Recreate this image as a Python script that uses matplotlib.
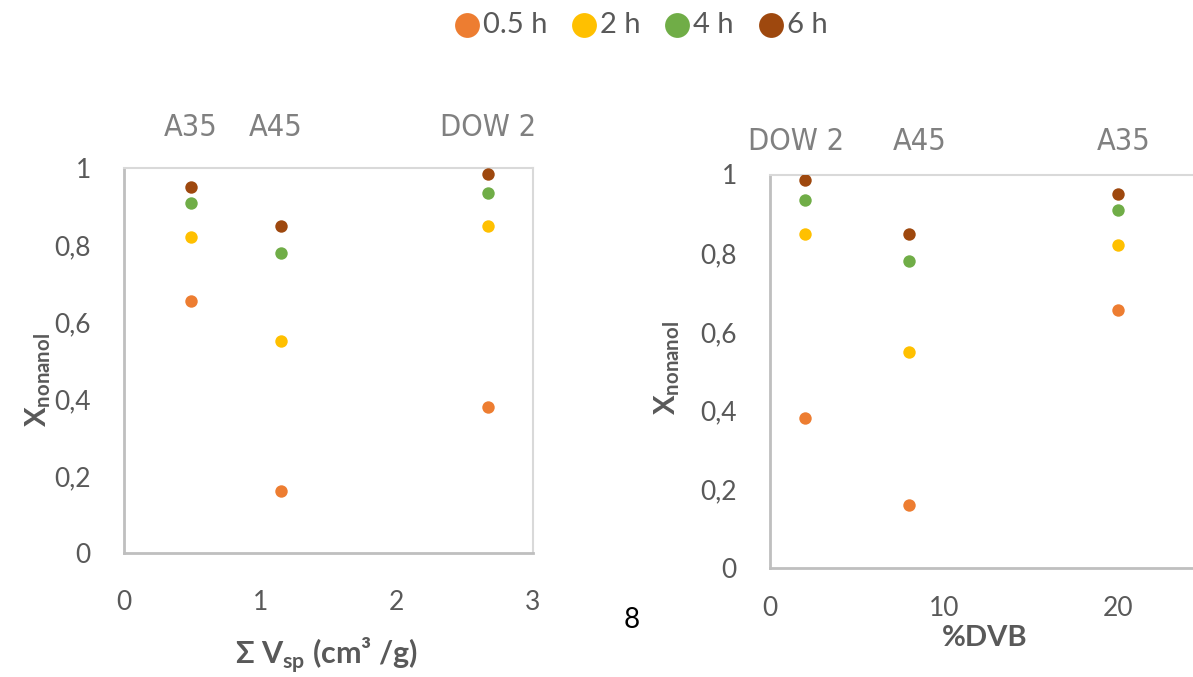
import matplotlib
matplotlib.use("Agg")
import matplotlib.pyplot as plt
import matplotlib.transforms as mtransforms

plt.rcParams['font.family'] = ['Lato', 'DejaVu Sans']

# data
resins = ['A35', 'A45', 'DOW 2']
vsp = [0.49, 1.15, 2.67]       # sum of specific pore volume, cm3/g
dvb = [20, 8, 2]               # %DVB
times = ['0.5 h', '2 h', '4 h', '6 h']
conv_05h = [0.655, 0.16, 0.38]
conv_2h = [0.82, 0.55, 0.85]
conv_4h = [0.91, 0.78, 0.935]
conv_6h = [0.95, 0.85, 0.985]
series = [conv_05h, conv_2h, conv_4h, conv_6h]
colors = ['#ED7D31', '#FFC000', '#70AD47', '#9E480E']

grey = '#595959'
W, H = 1193, 677
fig = plt.figure(figsize=(W / 100, H / 100), dpi=100)

def px(x0, y0, x1, y1):
    # pixel box -> figure fraction rect
    return [x0 / W, 1 - y1 / H, (x1 - x0) / W, (y1 - y0) / H]

ax1 = fig.add_axes(px(124, 168, 533, 553))
ax2 = fig.add_axes(px(770, 174.5, 770 + 25 * 17.4, 568))

def style(ax, xlim, xticks, xpad):
    ax.set_ylim(0, 1)
    ax.set_xlim(*xlim)
    ax.set_xticks(xticks)
    ax.set_yticks([0, 0.2, 0.4, 0.6, 0.8, 1])
    ax.set_yticklabels(['0', '0,2', '0,4', '0,6', '0,8', '1'])
    ax.tick_params(length=0, labelsize=19, labelcolor=grey)
    ax.tick_params(axis='y', pad=24)
    ax.tick_params(axis='x', pad=xpad)
    for s in ['left', 'bottom']:
        ax.spines[s].set_color('#BFBFBF')
        ax.spines[s].set_linewidth(2)
    for s in ['top', 'right']:
        ax.spines[s].set_color('#D9D9D9')
        ax.spines[s].set_linewidth(1.5)

style(ax1, (0, 3), [0, 1, 2, 3], 27)
style(ax2, (0, 25), [0, 10, 20], 20)

for vals, c, t in zip(series, colors, times):
    ax1.scatter(vsp, vals, s=80, color=c, linewidths=0, label=t, zorder=3)
    ax2.scatter(dvb, vals, s=80, color=c, linewidths=0, zorder=3)

# resin names above each column
tr1 = mtransforms.blended_transform_factory(ax1.transData, ax1.transAxes)
tr2 = mtransforms.blended_transform_factory(ax2.transData, ax2.transAxes)
offs1 = [0, -0.04, 0]
offs2 = [0.35, 0.6, -0.5]
lab_kw = dict(ha='center', va='center', fontsize=22, color='#808080',
              family='DejaVu Sans', fontstretch='condensed')
for name, x, o in zip(resins, vsp, offs1):
    ax1.text(x + o, 1.105, name, transform=tr1, **lab_kw)
for name, x, o in zip(resins, dvb, offs2):
    ax2.text(x + o, 1.083, name, transform=tr2, **lab_kw)

ylab = r'X$_{\mathregular{nonanol}}$'
fig.text(38 / W, 1 - 380 / H, ylab, rotation=90, ha='center', va='center',
         fontsize=21, fontweight='bold', color=grey)
fig.text(667 / W, 1 - 368 / H, ylab, rotation=90, ha='center', va='center',
         fontsize=21, fontweight='bold', color=grey)
fig.text(327 / W, 1 - 655 / H, r'Σ V$_{\mathregular{sp}}$ (cm³ /g)', ha='center', va='center',
         fontsize=22, fontweight='bold', color=grey)
fig.text(985 / W, 1 - 638 / H, '%DVB', ha='center', va='center',
         fontsize=21, fontweight='bold', color=grey)
fig.text(632 / W, 1 - 620 / H, '8', ha='center', va='center', fontsize=20, color='black')

fig.legend(loc='center', bbox_to_anchor=(640 / W, 1 - 25 / H), ncol=4, frameon=False,
           fontsize=21, labelcolor=grey, markerscale=2.0, handletextpad=0.05,
           columnspacing=0.75, handlelength=1.0)

fig.savefig('out.png', dpi=100)
